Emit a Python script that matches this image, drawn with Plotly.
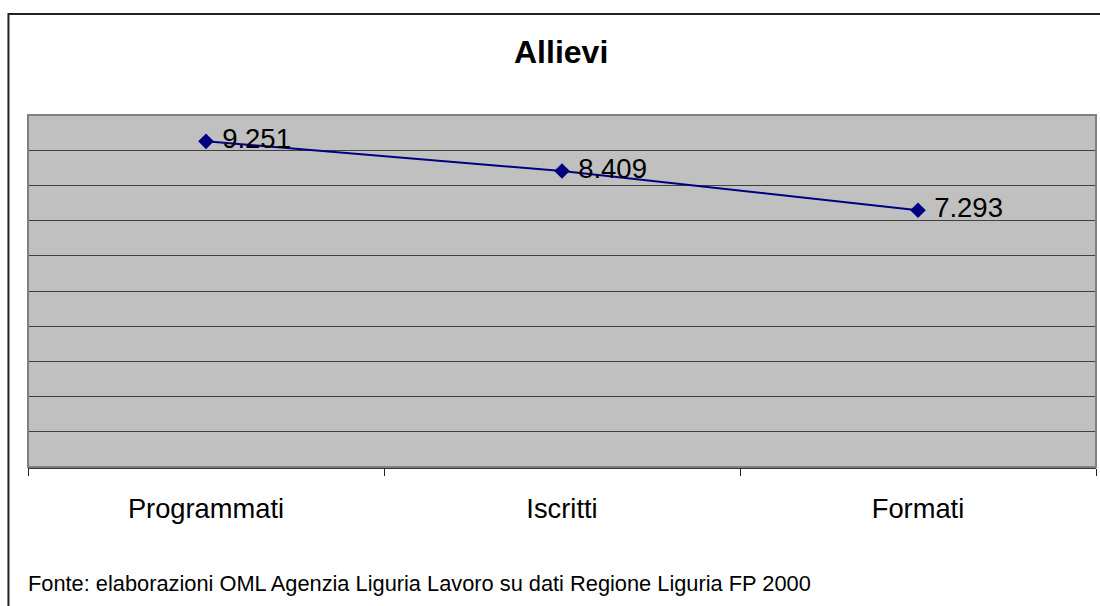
import plotly.graph_objects as go

categories = ["Programmati", "Iscritti", "Formati"]
values = [9251, 8409, 7293]
title_text = "Allievi"
source_text = "Fonte: elaborazioni OML Agenzia Liguria Lavoro su dati Regione Liguria FP 2000"

FONT = "Liberation Sans, Arial, sans-serif"
xs = list(range(len(categories)))

fig = go.Figure()
fig.add_trace(go.Scatter(
    x=xs, y=values, mode="lines+markers+text",
    line=dict(color="#000080", width=2),
    marker=dict(symbol="diamond", size=12, color="#000080"),
    texttemplate=" %{y:,.0f}", textposition="middle right",
    textfont=dict(family=FONT, size=27.5, color="black"),
    cliponaxis=False, showlegend=False, hoverinfo="skip",
))
# invisible trace for category labels on a second x axis
fig.add_trace(go.Scatter(x=xs, y=values, xaxis="x2", mode="markers",
                         marker=dict(opacity=0), showlegend=False, hoverinfo="skip"))

fig.update_layout(
    width=1100, height=606, autosize=False,
    margin=dict(l=28, r=4, t=115, b=139),
    paper_bgcolor="white", plot_bgcolor="#C0C0C0",
    separators=",.",
    font=dict(family=FONT, color="black"),
    xaxis=dict(range=[-0.5, len(categories) - 0.5],
               tickvals=[i - 0.5 for i in range(len(categories) + 1)],
               ticktext=[""] * (len(categories) + 1),
               ticks="outside", ticklen=7, tickcolor="#222", tickwidth=1,
               showgrid=False, zeroline=False,
               showline=True, linecolor="#333", linewidth=2),
    xaxis2=dict(range=[-0.5, len(categories) - 0.5], overlaying="x", anchor="y",
                side="bottom", tickvals=xs, ticktext=categories, ticks="",
                showgrid=False, zeroline=False, showline=False,
                ticklabelstandoff=23,
                tickfont=dict(family=FONT, size=27.3, color="black")),
    yaxis=dict(range=[0, 10000], dtick=1000, showticklabels=False, ticks="",
               showgrid=True, gridcolor="#404040", gridwidth=1, zeroline=False),
    shapes=[
        dict(type="rect", xref="paper", yref="paper", x0=0, x1=1, y0=0, y1=1,
             line=dict(color="#808080", width=2), layer="above"),
        dict(type="rect", xref="paper", yref="paper", x0=-0.0183, x1=1.05,
             y0=-0.6, y1=1.2869, line=dict(color="#222", width=2)),
    ],
    annotations=[
        dict(text="<b>" + title_text + "</b>", xref="paper", yref="paper",
             x=0.4995, y=1.179, xanchor="center", yanchor="middle",
             showarrow=False, font=dict(family=FONT, size=32, color="black")),
        dict(text=source_text, xref="paper", yref="paper",
             x=-0.002, y=-0.332, xanchor="left", yanchor="middle",
             showarrow=False, font=dict(family=FONT, size=21.8, color="black")),
    ],
)

fig.write_html(
    "out.html",
    config={"displayModeBar": False, "staticPlot": True},
    post_script="document.body.style.margin='0';document.body.style.overflow='hidden';",
)
